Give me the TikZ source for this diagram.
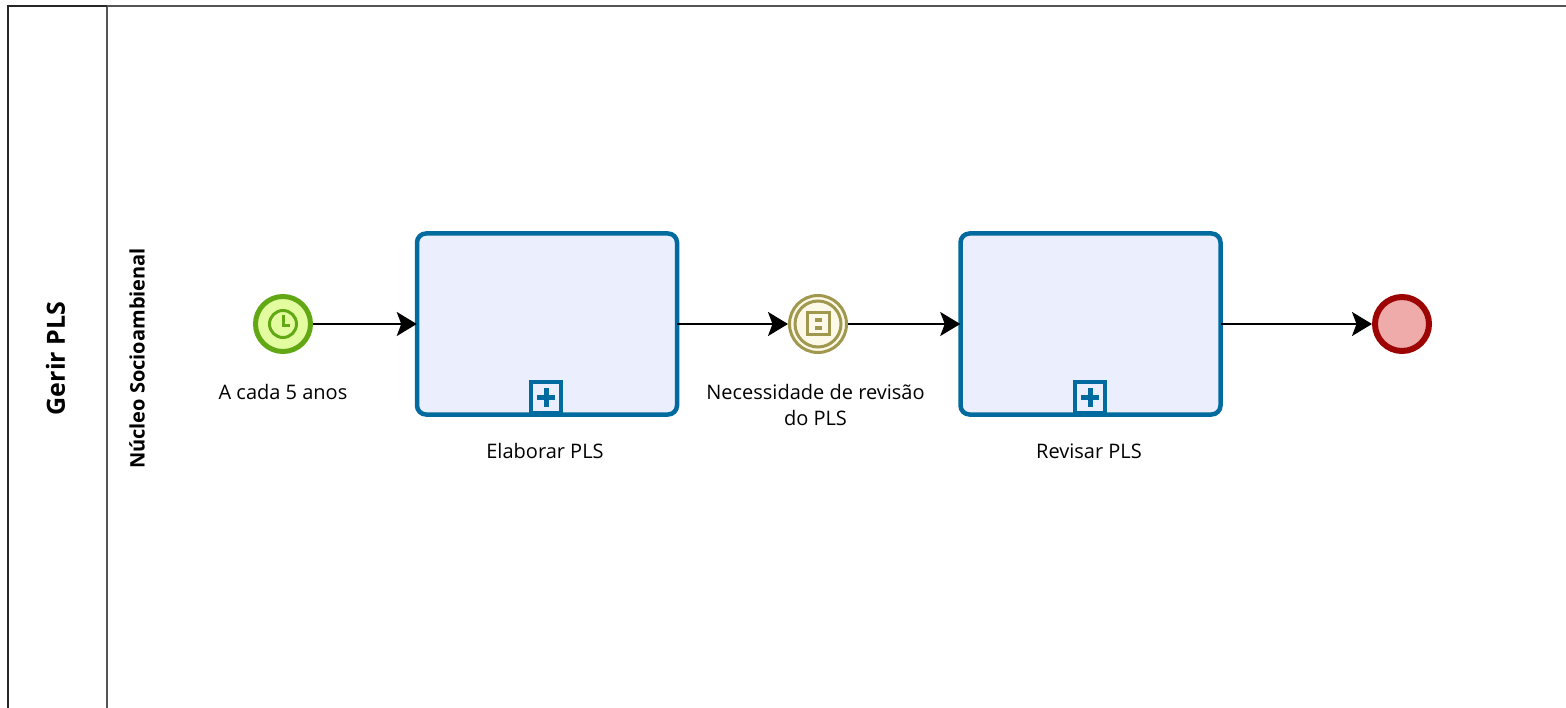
\documentclass[tikz,border=0pt]{standalone}
\usepackage{fontspec}
\setmainfont{Open Sans}
\usetikzlibrary{arrows.meta, positioning}

\definecolor{taskBlue}{RGB}{1,106,158}
\definecolor{taskFill}{RGB}{234,238,253}
\definecolor{startGreen}{RGB}{98,168,21}
\definecolor{startFill}{RGB}{228,252,160}
\definecolor{midOlive}{RGB}{160,152,78}
\definecolor{midFill}{RGB}{253,249,232}
\definecolor{endRed}{RGB}{157,4,4}
\definecolor{endFill}{RGB}{239,170,170}
\definecolor{poolGray}{RGB}{85,85,85}

\tikzset{
    label/.style={font=\fontsize{20}{26}\selectfont, align=center, text=black},
    lanetext/.style={rotate=90, text=black},
    taskbox/.style={draw=taskBlue, fill=taskFill, line width=4.5pt, rounded corners=9pt,
        minimum width=260pt, minimum height=181pt},
    startevent/.style={circle, draw=startGreen, fill=startFill, line width=5pt, minimum size=55pt},
    midevent/.style={circle, draw=midOlive, fill=midFill, line width=3pt, minimum size=57pt},
    endevent/.style={circle, draw=endRed, fill=endFill, line width=6pt, minimum size=54pt},
    flow/.style={-{Stealth[length=20pt,width=24pt,inset=4.5pt]}, line width=2pt, black},
}

\begin{document}
\begin{tikzpicture}[x=1pt,y=-1pt]
    \useasboundingbox (0,0) rectangle (1566,708);

    % Pool and lane lines
    \draw[line width=2.5pt, poolGray] (107,6) -- (1566,6);
    \draw[line width=2.5pt, poolGray] (107,6) -- (107,708);
    \draw[line width=2.5pt, black!85] (8,708) -- (8,6) -- (107,6);
    \node[lanetext, font=\bfseries\fontsize{25}{30}\selectfont] (poolname) at (55.5,358.5) {Gerir PLS};
    \node[lanetext, font=\bfseries\fontsize{20}{24}\selectfont] (lanename) at (137,358.5) {Núcleo Socioambienal};

    % Events and tasks
    \node[startevent] (start) at (283,324) {};
    \node[taskbox] (elaborar) at (547,324) {};
    \node[midevent] (mid) at (818,324) {};
    \node[taskbox] (revisar) at (1090.5,324) {};
    \node[endevent] (end) at (1402,324) {};

    % Clock symbol
    \draw[startGreen, line width=3pt] (283,324) circle (13.5pt);
    \draw[startGreen, line width=3pt] (283,315) -- (283,326) -- (290,326);

    % Intermediate event inner ring and symbol
    \draw[midOlive, line width=3pt] (818,324) circle (23pt);
    \draw[midOlive, line width=3pt] (807.5,313) rectangle (829.5,335);
    \fill[midOlive] (815,318) rectangle (822,322);
    \fill[midOlive] (815,326) rectangle (822,330);

    % Sub-process markers
    \foreach \mx in {546,1090}{
        \draw[taskBlue, line width=4pt, fill=taskFill] (\mx-15,382) rectangle (\mx+15,413);
        \draw[taskBlue, line width=5pt] (\mx-9,397.5) -- (\mx+9,397.5);
        \draw[taskBlue, line width=5pt] (\mx,388.5) -- (\mx,406.5);
    }

    % Sequence flows
    \draw[flow, shorten >=-2pt] (start) -- (elaborar);
    \draw[flow, shorten <=-2pt] (elaborar) -- (mid);
    \draw[flow, shorten >=-2pt] (mid) -- (revisar);
    \draw[flow, shorten <=-2pt] (revisar) -- (end);

    % Labels
    \node[label] (startlabel) at (283,392) {A cada 5 anos};
    \node[label] (elaborarlabel) at (545,451) {Elaborar PLS};
    \node[label] (midlabel) at (815.5,405) {Necessidade de revisão\\do PLS};
    \node[label] (revisarlabel) at (1089,451) {Revisar PLS};
\end{tikzpicture}
\end{document}
